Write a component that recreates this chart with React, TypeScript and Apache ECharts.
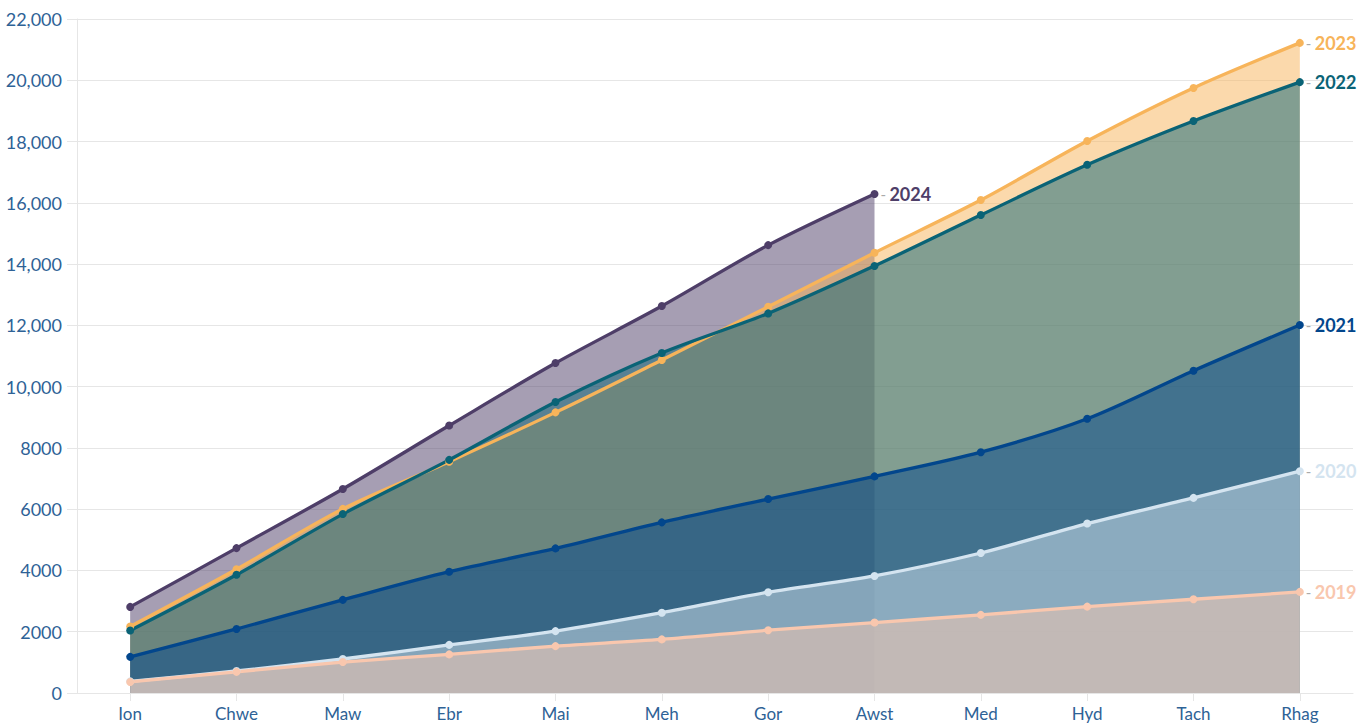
import React, { useEffect, useRef } from "react";
import * as echarts from "echarts";

const months = ["Ion", "Chwe", "Maw", "Ebr", "Mai", "Meh", "Gor", "Awst", "Med", "Hyd", "Tach", "Rhag"];

const y2019 = [360, 690, 1010, 1260, 1530, 1750, 2050, 2300, 2550, 2820, 3060, 3300];
const y2020 = [380, 720, 1110, 1570, 2020, 2620, 3290, 3820, 4570, 5530, 6370, 7240];
const y2021 = [1180, 2090, 3040, 3960, 4720, 5570, 6330, 7070, 7860, 8950, 10520, 12010];
const y2022 = [2040, 3860, 5840, 7610, 9500, 11100, 12390, 13940, 15600, 17240, 18670, 19940];
const y2023 = [2170, 4040, 6010, 7550, 9160, 10870, 12610, 14370, 16090, 18020, 19750, 21220];
const y2024 = [2810, 4730, 6660, 8730, 10770, 12630, 14620, 16290];

const seriesDefs = [
  { name: "2024", data: y2024, color: "#4e3e68" },
  { name: "2023", data: y2023, color: "#f7b45a" },
  { name: "2022", data: y2022, color: "#0a6376" },
  { name: "2021", data: y2021, color: "#02468c" },
  { name: "2020", data: y2020, color: "#d4e4f0" },
  { name: "2019", data: y2019, color: "#f9c7ae" },
];

const FONT = "Lato";
const AXIS_COLOR = "#2e6296";

export default function App() {
  const ref = useRef<HTMLDivElement>(null);
  useEffect(() => {
    if (!ref.current) return;
    const chart = echarts.init(ref.current, undefined, { renderer: "svg" });
    chart.setOption({
      animation: false,
      backgroundColor: "#ffffff",
      grid: { left: 77, right: 15, top: 19, bottom: 31, containLabel: false },
      xAxis: {
        type: "category",
        data: months,
        boundaryGap: true,
        axisLine: { show: true, lineStyle: { color: "#e6e6e6" } },
        axisTick: { show: true, alignWithLabel: true, length: 8, lineStyle: { color: "#e6e6e6" } },
        axisLabel: { color: AXIS_COLOR, fontFamily: FONT, fontSize: 17, margin: 12 },
        splitLine: { show: false },
      },
      yAxis: {
        type: "value",
        min: 0,
        max: 22000,
        interval: 2000,
        axisLine: { show: true, lineStyle: { color: "#e6e6e6" } },
        axisTick: { show: true, length: 10, lineStyle: { color: "#e6e6e6" } },
        axisLabel: {
          color: AXIS_COLOR,
          fontFamily: FONT,
          fontSize: 18,
          margin: 15,
          formatter: (v: number) =>
            v >= 10000 ? v.toLocaleString("en-US") : String(v),
        },
        splitLine: { show: true, lineStyle: { color: "#e6e6e6", width: 1 } },
      },
      series: seriesDefs.map((s) => ({
        type: "line",
        name: s.name,
        data: s.data,
        smooth: 0.3,
        symbol: "circle",
        symbolSize: 8,
        showSymbol: true,
        lineStyle: { color: s.color, width: 3.3 },
        itemStyle: { color: s.color },
        areaStyle: { color: s.color, opacity: 0.5 },
        emphasis: { disabled: true },
        endLabel: {
          show: true,
          distance: 6,
          formatter: "{d|-} {y|" + s.name + "}",
          rich: {
            d: { color: "#aaaaaa", fontFamily: FONT, fontSize: 15 },
            y: { color: s.color, fontFamily: FONT, fontSize: 18, fontWeight: "bold" },
          },
        },
      })),
    });
    return () => chart.dispose();
  }, []);
  return (
    <div
      ref={ref}
      style={{ position: "fixed", left: 0, top: 0, width: 1368, height: 724 }}
    />
  );
}
